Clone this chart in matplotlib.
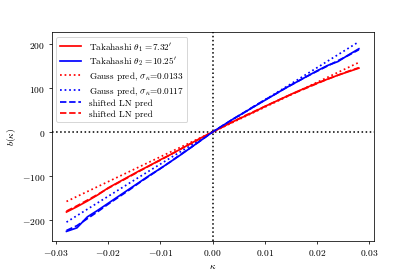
import numpy as np
import matplotlib
matplotlib.use('Agg')
import matplotlib.pyplot as plt

plt.rcParams['font.family'] = 'serif'
plt.rcParams['font.serif'] = ['cmr10', 'DejaVu Serif']
plt.rcParams['mathtext.fontset'] = 'cm'
plt.rcParams['axes.formatter.use_mathtext'] = True

# kappa grid
kappa = [-0.028, -0.026, -0.024, -0.022, -0.020, -0.018, -0.016, -0.014, -0.012, -0.010,
         -0.008, -0.006, -0.004, -0.002, 0.0, 0.002, 0.004, 0.006, 0.008, 0.010,
         0.012, 0.014, 0.016, 0.018, 0.020, 0.022, 0.024, 0.026, 0.028]

# Takahashi measurements
taka_1 = [-182, -170, -157, -143, -127, -114, -101, -88, -76, -63,
          -51, -38, -25, -12, 0, 12, 24, 35, 46, 58,
          69, 80, 91, 101, 111, 120, 129, 137, 145]
taka_2 = [-226, -218, -193, -178, -162, -146, -130, -114, -98, -83,
          -67, -51, -34, -17, 0, 15, 30, 44, 58, 72,
          86, 100, 113, 126, 139, 151, 160, 175, 189]

# shifted lognormal predictions (mostly hidden under the data)
ln_1 = [-180, -168, -155, -142, -128, -115, -102, -89, -76, -64,
        -51, -38, -25, -13, 0, 12, 24, 36, 47, 58,
        69, 80, 90, 100, 110, 120, 129, 138, 146]
ln_2 = [-224, -213, -197, -181, -164, -148, -132, -115, -99, -83,
        -67, -50, -34, -17, 0, 15, 30, 44, 59, 73,
        86, 100, 113, 126, 138, 150, 162, 174, 187]

# Gaussian predictions
kappa_g = [-0.028, -0.014, 0.0, 0.014, 0.028]
gauss_1 = [-158, -79, 0, 79, 158]
gauss_2 = [-205, -102, 0, 102, 205]

fig = plt.figure(figsize=(6, 4), dpi=415 / 6)
ax = fig.add_subplot(111)
fig.subplots_adjust(left=0.125, right=0.9, top=0.881, bottom=0.127)

ax.plot(kappa, taka_1, 'r-', lw=1.8, label=r"Takahashi $\theta_1$ =7.32$'$", zorder=3)
ax.plot(kappa, taka_2, 'b-', lw=1.8, label=r"Takahashi $\theta_2$ =10.25$'$", zorder=3)
ax.plot(kappa_g, gauss_1, 'r:', lw=1.8, label=r"Gauss pred, $\sigma_\kappa$=0.0133")
ax.plot(kappa_g, gauss_2, 'b:', lw=1.8, label=r"Gauss pred, $\sigma_\kappa$=0.0117")
ax.plot(kappa, ln_2, 'b--', lw=1.8, label='shifted LN pred', zorder=2)
ax.plot(kappa, ln_1, 'r--', lw=1.8, label='shifted LN pred', zorder=2)

ax.axhline(0, color='k', ls=':', lw=1.6)
ax.axvline(0, color='k', ls=':', lw=1.6)

ax.set_xlabel(r'$\kappa$')
ax.set_ylabel(r'$b(\kappa)$')

ax.legend(loc='upper left', fontsize=9.6, handlelength=2.3, labelspacing=0.2)

fig.savefig('out.png', dpi=415 / 6)
